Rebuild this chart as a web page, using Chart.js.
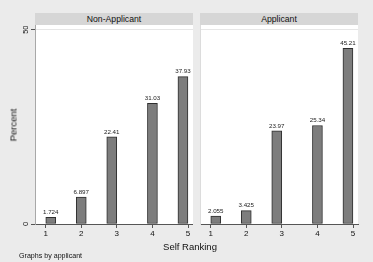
<!DOCTYPE html>
<html>
<head>
<meta charset="utf-8">
<script src="https://cdn.jsdelivr.net/npm/chart.js@4.4.1/dist/chart.umd.min.js"></script>
<style>
  body { margin: 0; background: #eaeaea; font-family: "Liberation Sans", Arial, sans-serif; }
  #wrap { position: relative; width: 373px; height: 262px; overflow: hidden; background: #ebebeb; }
  canvas { position: absolute; top: 0; }
  .strip { position: absolute; top: 13px; height: 12px; background: #d6d6d6; color: #111;
           font-size: 8.7px; line-height: 12px; text-align: center; }
  .lbl { position: absolute; color: #111; white-space: nowrap; }
</style>
</head>
<body>
<div id="wrap">
  <canvas id="left-chart" width="193" height="262" style="left:0"></canvas>
  <canvas id="right-chart" width="180" height="262" style="left:193px"></canvas>
  <div class="strip" style="left:35px;width:158px">Non-Applicant</div>
  <div class="strip" style="left:200px;width:158px">Applicant</div>
  <div class="lbl" style="left:13px;top:125px;font-size:9.5px;transform:translate(-50%,-50%) rotate(-90deg)">Percent</div>
  <div class="lbl" style="left:190px;top:246px;font-size:9.5px;transform:translate(-50%,-50%)">Self Ranking</div>
  <div class="lbl" style="left:19px;top:252px;font-size:7.1px">Graphs by applicant</div>
</div>
<script>
// Self ranking histogram, by applicant
const binCenters = [1.143, 2, 2.857, 4, 4.857];
const nonApplicant = [1.724, 6.897, 22.41, 31.03, 37.93];
const applicant = [2.055, 3.425, 23.97, 25.34, 45.21];
const xTicks = [1, 2, 3, 4, 5];
const yTicks = [0, 50];

// white plot region + value labels above bars
const panelPlugin = {
    id: 'panel',
    beforeDraw(chart) {
        const a = chart.chartArea;
        chart.ctx.save();
        chart.ctx.fillStyle = '#ffffff';
        chart.ctx.fillRect(a.left, a.top, a.right - a.left, a.bottom - a.top);
        chart.ctx.restore();
    },
    afterDatasetsDraw(chart) {
        const ctx = chart.ctx;
        const values = chart.data.datasets[0].data;
        ctx.save();
        ctx.font = '6.2px "Liberation Sans", Arial, sans-serif';
        ctx.fillStyle = '#222';
        ctx.textAlign = 'center';
        ctx.textBaseline = 'middle';
        chart.getDatasetMeta(0).data.forEach((bar, i) => {
            ctx.fillText(String(values[i].y), bar.x, bar.y - 5);
        });
        ctx.restore();
    }
};

// rotated y tick labels (Stata style)
const yLabelPlugin = {
    id: 'ylabels',
    afterDraw(chart) {
        const scale = chart.scales.y;
        const ctx = chart.ctx;
        ctx.save();
        ctx.font = '7.5px "Liberation Sans", Arial, sans-serif';
        ctx.fillStyle = '#111';
        ctx.textAlign = 'center';
        ctx.textBaseline = 'middle';
        scale.ticks.forEach(t => {
            ctx.save();
            ctx.translate(scale.right - 9.5, scale.getPixelForValue(t.value));
            ctx.rotate(-Math.PI / 2);
            ctx.fillText(String(t.value), 0, 0);
            ctx.restore();
        });
        ctx.restore();
    }
};

function makePanel(canvasId, values, showY, yWidth, padRight) {
    const ctx = document.getElementById(canvasId).getContext('2d');
    return new Chart(ctx, {
        type: 'bar',
        data: {
            datasets: [{
                data: binCenters.map((x, i) => ({ x: x, y: values[i] })),
                backgroundColor: '#7d7d7d',
                borderColor: '#2e2e2e',
                borderWidth: 1,
                borderSkipped: false,
                barThickness: 10
            }]
        },
        options: {
            responsive: false,
            devicePixelRatio: 1,
            animation: false,
            layout: { padding: { top: 25, right: padRight, left: 0, bottom: 0 } },
            plugins: { legend: { display: false }, tooltip: { enabled: false } },
            scales: {
                x: {
                    type: 'linear',
                    offset: false,
                    min: 0.70,
                    max: 5.14,
                    afterBuildTicks: s => { s.ticks = xTicks.map(v => ({ value: v })); },
                    afterFit: s => { s.height = 38; },
                    border: { color: '#555', width: 1 },
                    grid: { drawOnChartArea: false, drawTicks: true, tickLength: 4, tickColor: '#555', offset: false },
                    ticks: {
                        color: '#111',
                        padding: 1,
                        maxRotation: 0,
                        font: { family: '"Liberation Sans", Arial, sans-serif', size: 8 }
                    }
                },
                y: {
                    min: 0,
                    max: 51.2,
                    afterBuildTicks: s => { s.ticks = yTicks.map(v => ({ value: v })); },
                    afterFit: s => { s.width = yWidth; },
                    border: { color: showY ? '#a8a8a8' : '#dcdcdc', width: 1 },
                    grid: {
                        color: ctx => ctx.tick && ctx.tick.value === 0 ? 'rgba(0,0,0,0)' : '#e6e6e6',
                        drawTicks: showY,
                        tickLength: 4,
                        tickColor: '#555'
                    },
                    ticks: { display: false }
                }
            }
        },
        plugins: showY ? [panelPlugin, yLabelPlugin] : [panelPlugin]
    });
}

makePanel('left-chart', nonApplicant, true, 35, 0);
makePanel('right-chart', applicant, false, 7, 15);
</script>
</body>
</html>
